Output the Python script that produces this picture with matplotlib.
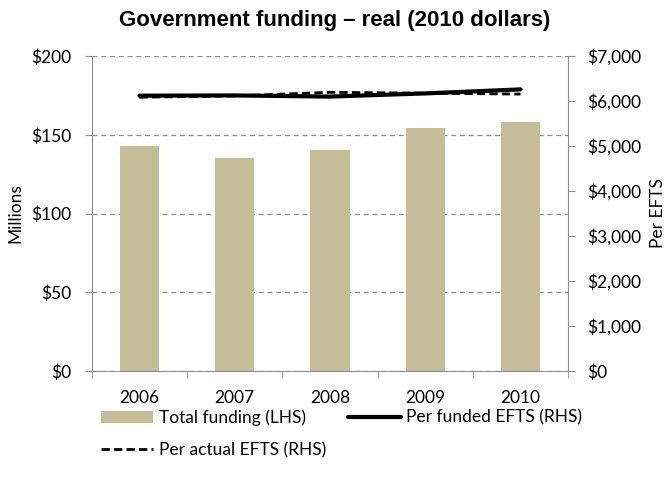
import numpy as np
import matplotlib.pyplot as plt
from matplotlib.ticker import FuncFormatter, MultipleLocator

years = ["2006", "2007", "2008", "2009", "2010"]
total_funding = [143, 135.5, 140.5, 154.5, 158]          # $ millions (LHS)
per_funded_efts = [6120, 6125, 6100, 6170, 6260]         # $ per EFTS (RHS)
per_actual_efts = [6085, 6115, 6195, 6175, 6155]         # $ per EFTS (RHS)

plt.rcParams["font.family"] = ["Lato", "DejaVu Sans"]
GRID = "#8c8c8c"
BAR = "#C4BD97"
FS = 12.5

fig = plt.figure(figsize=(6.7, 4.92), dpi=100)
ax = fig.add_axes([0.137, 0.246, 0.711, 0.640])
x = np.arange(len(years))

bars = ax.bar(x, total_funding, width=0.41, color=BAR, zorder=2, label="Total funding (LHS)")
ax.set_xlim(-0.5, len(years) - 0.5)
ax.set_ylim(0, 200)
ax.yaxis.set_major_locator(MultipleLocator(50))
ax.yaxis.set_major_formatter(FuncFormatter(lambda v, p: f"${v:,.0f}"))
ax.set_xticks(x)
ax.set_xticklabels(years)
ax.set_xticks(np.arange(-0.5, len(years)), minor=True)
ax.tick_params(axis="x", which="major", length=0, pad=14, labelsize=FS)
ax.tick_params(axis="x", which="minor", length=5, color=GRID, direction="out")
ax.tick_params(axis="y", length=5, color=GRID, direction="out", labelsize=FS, pad=10)
ax.grid(axis="y", color=GRID, linestyle=(0, (4, 3)), linewidth=0.9, zorder=0)
ax.set_axisbelow(True)
for side in ["left", "bottom"]:
    ax.spines[side].set_color(GRID)
ax.spines["top"].set_visible(False)
ax.spines["right"].set_visible(False)
ax.set_ylabel("Millions", fontsize=FS, labelpad=5)

ax2 = ax.twinx()
funded, = ax2.plot(x, per_funded_efts, color="black", lw=3, solid_capstyle="round",
                   label="Per funded EFTS (RHS)", zorder=3)
actual, = ax2.plot(x, per_actual_efts, color="black", lw=2, linestyle=(0, (3, 1.5)),
                   label="Per actual EFTS (RHS)", zorder=3)
ax2.set_ylim(0, 7000)
ax2.yaxis.set_major_locator(MultipleLocator(1000))
ax2.yaxis.set_major_formatter(FuncFormatter(lambda v, p: f"${v:,.0f}"))
ax2.tick_params(axis="y", length=5, color=GRID, direction="out", labelsize=FS, pad=9)
ax2.spines["right"].set_color(GRID)
for side in ["top", "left", "bottom"]:
    ax2.spines[side].set_visible(False)
ax2.set_ylabel("Per EFTS", fontsize=FS, labelpad=6)

fig.suptitle("Government funding – real (2010 dollars)", fontsize=16, fontweight="bold",
             family=["Liberation Sans", "DejaVu Sans"], y=0.98)

fig.legend([bars, actual, funded],
           ["Total funding (LHS)", "Per actual EFTS (RHS)", "Per funded EFTS (RHS)"],
           ncol=2, loc="upper left", bbox_to_anchor=(0.128, 0.2), frameon=False,
           fontsize=FS, handlelength=3.0, handletextpad=0.3, columnspacing=1.3,
           labelspacing=0.95)

fig.savefig("out.png", dpi=100)
